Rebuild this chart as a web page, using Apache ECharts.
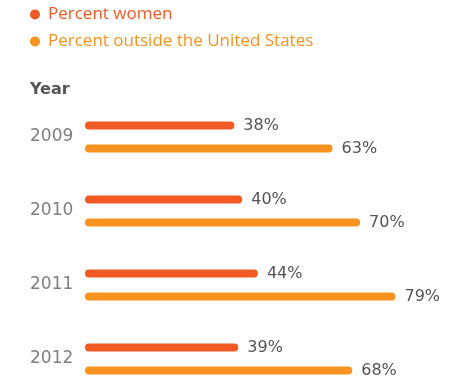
<!DOCTYPE html>
<html>
<head>
<meta charset="utf-8">
<script src="https://cdn.jsdelivr.net/npm/echarts@6/dist/echarts.min.js"></script>
<style>
  html, body { margin: 0; padding: 0; background: #fff; }
  #chart { width: 457px; height: 381px; }
</style>
</head>
<body>
<div id="chart"></div>
<script>
// Survey share by year
const years = ['2009', '2010', '2011', '2012'];
const percentWomen = [38, 40, 44, 39];
const percentOutsideUS = [63, 70, 79, 68];
const seriesNames = ['Percent women', 'Percent outside the United States'];

const RED = '#f15a24';
const ORANGE = '#f7931e';
const LEGEND_FONT = '"Open Sans", sans-serif';
const FONT = '"DejaVu Sans", sans-serif';

const chart = echarts.init(document.getElementById('chart'));

const valueLabel = {
  show: true,
  position: 'right',
  distance: 9,
  formatter: p => p.value + '%',
  color: '#545454',
  fontSize: 16,
  fontWeight: 'normal',
  fontFamily: FONT
};

chart.setOption({
  animation: false,
  legend: {
    orient: 'vertical',
    left: 25,
    top: 1,
    icon: 'circle',
    itemWidth: 10,
    itemHeight: 10,
    itemGap: 10,
    selectedMode: false,
    textStyle: { fontSize: 17, fontFamily: LEGEND_FONT, padding: [0, 0, 0, 3] },
    data: [
      { name: seriesNames[0], textStyle: { color: RED } },
      { name: seriesNames[1], textStyle: { color: ORANGE } }
    ]
  },
  title: {
    text: 'Year',
    left: 25,
    top: 77,
    textStyle: { color: '#555', fontSize: 16, fontWeight: 'bold', fontFamily: FONT }
  },
  grid: { left: 85, top: 100, width: 314.4, height: 296, outerBoundsMode: 'none' },
  xAxis: {
    type: 'value',
    min: 0,
    max: 80,
    show: false
  },
  yAxis: {
    type: 'category',
    data: years,
    inverse: true,
    axisLine: { show: false },
    axisTick: { show: false },
    splitLine: { show: false },
    axisLabel: {
      color: '#7f7f7f',
      fontSize: 17,
      fontFamily: FONT,
      margin: 10,
      align: 'left',
      padding: [0, 0, 0, -45]
    }
  },
  series: [
    {
      name: seriesNames[0],
      type: 'bar',
      data: percentWomen,
      barWidth: 8,
      barGap: '187%',
      itemStyle: { color: RED, borderRadius: 4 },
      label: valueLabel
    },
    {
      name: seriesNames[1],
      type: 'bar',
      data: percentOutsideUS,
      barWidth: 8,
      itemStyle: { color: ORANGE, borderRadius: 4 },
      label: valueLabel
    }
  ]
});
</script>
</body>
</html>
